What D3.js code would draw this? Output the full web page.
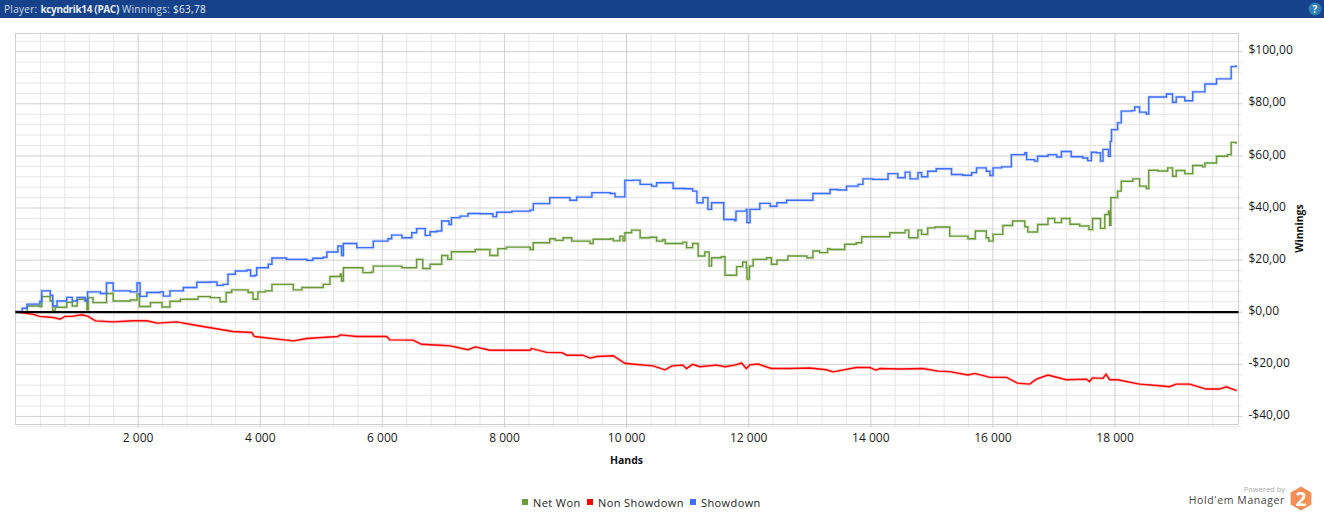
<!DOCTYPE html>
<html>
<head>
<meta charset="utf-8">
<script src="https://cdn.jsdelivr.net/npm/d3@7"></script>
<style>
  html, body { margin: 0; padding: 0; background: #fff; overflow: hidden; }
  svg { display: block; }
  text { font-family: "Open Sans", sans-serif; }
</style>
</head>
<body>
<script>
var showdownHands = [0,110,190,400,430,570,610,680,840,930,1010,1110,1140,1180,1390,1490,1600,1880,1990,2040,2150,2370,2420,2530,2750,2970,3190,3300,3400,3480,3600,3790,3850,3920,3950,4140,4200,4440,4770,4870,5040,5100,5280,5340,5370,5590,5830,5860,6100,6160,6330,6490,6570,6710,6790,6900,6980,7100,7140,7280,7410,7610,7820,7880,8130,8430,8480,8750,8970,9080,9190,9410,9440,9740,9820,9980,10110,10230,10420,10500,10690,10770,10960,11090,11160,11260,11340,11400,11560,11600,11780,11800,11970,11980,12030,12190,12360,12470,12630,12960,13060,13280,13340,13470,13610,13800,13880,14040,14290,14450,14570,14650,14780,14840,14940,15080,15330,15510,15660,15740,15900,15960,16010,16150,16310,16530,16560,16690,16740,16910,17050,17130,17290,17480,17560,17620,17700,17770,17810,17890,17900,17930,17950,18050,18110,18280,18330,18410,18520,18560,18850,18950,19010,19150,19280,19440,19480,19670,19850,19910,19990];
var showdown = [0,1.3,2.9,4,8,6.3,2.2,4.1,5.5,4.1,5.5,5.5,4.1,7.6,7,11,8,7.6,11,5.9,7.4,7.6,6,8,9.3,11.3,11.4,10.1,10.5,14.4,15.6,16,13.7,14,16.9,18.2,20.6,20.1,19.7,20.5,20.9,22.9,25.2,21.6,26.2,24.6,24.6,27.1,28,29.4,28.4,30.3,31.9,29.3,30.7,31,34.8,33.5,36.1,36.7,37.7,37.6,36.5,38.2,38.6,39,41.5,43.8,43.8,42.8,44,44,45.7,45.4,44.1,50.4,50.5,48.9,48.2,49.5,49.5,47.3,47.2,46.3,41.8,43.8,39.3,41.8,41.8,35.4,35,38.6,39.3,34.2,39.3,41.6,40.5,41.8,42.8,42.8,45.4,45.4,46.9,46.7,48.2,48.9,51,50.8,53,51.4,53.6,51,53.4,51.8,53.9,54.9,52.7,52.4,53.4,55.2,53.9,52.3,55.2,55.6,60.3,61,58.4,57.8,59.7,60.3,59.4,61.5,59.5,59,58,61.2,61,57.8,62.3,62.3,59.7,65.4,69.9,72.5,77,77.2,78.6,76.6,75.9,82.4,83.6,80.4,82.4,81,84.4,84.4,87.4,89.4,89.4,94.1,94.7];

var netWonHands = [0,190,400,430,570,610,650,760,840,930,1010,1090,1170,1190,1270,1490,1600,1880,1990,2030,2210,2400,2530,2700,2990,3190,3350,3450,3540,3810,3890,3970,4090,4200,4550,4690,4820,5040,5150,5320,5340,5370,5690,5830,5860,6100,6240,6330,6570,6670,6790,6900,6980,7080,7140,7390,7530,7770,7900,8040,8430,8480,8750,8840,8970,9110,9410,9460,9740,9790,9900,9950,9980,10090,10230,10390,10500,10600,10640,10930,10990,11090,11180,11290,11360,11400,11560,11620,11780,11810,11910,11970,11980,12020,12080,12300,12380,12470,12630,12650,12960,13060,13170,13300,13340,13580,13770,13860,14040,14320,14570,14630,14780,14840,14940,15060,15300,15600,15720,15900,15940,16010,16170,16330,16530,16580,16690,16740,16910,17020,17130,17270,17430,17580,17640,17700,17770,17840,17900,17920,17940,18050,18110,18280,18300,18410,18520,18560,18710,18870,18950,19010,19150,19280,19440,19480,19670,19850,19910,19990];
var netWon = [0,2.2,2,5.8,4.1,0.3,1.7,1.7,3.6,2.2,4.8,4.8,0.7,5.4,3.5,7,4.1,4.5,6.7,2,3.5,1.8,4,4.8,5.8,5.4,3.8,7.4,8.4,7.4,4.8,7.6,8,10.5,8.4,9.3,9.3,10.5,13.5,14.4,11.8,16.9,15,15.2,17.5,17.5,17.5,16.9,20.1,16.6,18.2,18.2,21.6,20.1,23,23,23.9,21.6,24.2,24.8,23.9,26.5,28,27.4,28.4,27.1,26.2,27.8,28,27.2,29,27.2,30.3,31.3,28.4,28.6,27.1,27.6,26.2,26.7,24.6,26.2,21.4,22.9,17.5,20.7,21.1,14,14,17.3,19.1,16.9,12.5,17.5,20.1,20.7,18.2,19.8,19.8,21.4,20.7,23.3,22.7,24.2,23.9,25.9,26.5,28.8,28.8,30.3,31.3,28.4,31.3,29.7,32.2,32.5,29,28,31,28.4,27.1,29.7,33.1,34.8,32.6,30.6,30.6,33.5,35.8,34.2,35.8,33.6,32.9,31.5,35.8,35.8,32,37.3,38.6,33.2,43.8,46.3,50.1,50.1,51,48.2,47.3,54.3,54,55.2,52,54.2,53,56.1,55.6,57.1,59.7,60.3,65,64.4];

var nonShowdownHands = [0,290,400,620,730,810,920,1090,1190,1310,1600,1930,2150,2320,2640,3020,3560,3870,3910,4550,4770,5280,5320,5590,6080,6130,6510,6650,6950,7120,7410,7530,7770,8430,8450,8700,8950,9030,9290,9410,9520,9790,9980,10090,10440,10640,10750,10930,10990,11090,11210,11480,11620,11780,11890,11970,12030,12160,12380,12680,13010,13280,13390,13770,13990,14090,14160,14480,14860,15110,15300,15600,15710,15960,16230,16410,16610,16720,16910,17210,17540,17590,17640,17810,17860,17920,18050,18410,18740,18900,19010,19230,19500,19720,19830,20000];
var nonShowdown = [0,-1,-1.8,-2.2,-2.9,-1.8,-1.8,-1.2,-1.8,-3.5,-3.9,-3.5,-3.5,-4.4,-3.9,-5.5,-7.6,-8,-9.5,-11.2,-10.3,-9.5,-8.9,-9.5,-9.5,-10.8,-10.9,-12.5,-12.9,-13.1,-14.6,-13.5,-14.8,-14.8,-14.1,-15.6,-15.7,-16.7,-16.7,-17.8,-17.2,-16.9,-19.8,-20.1,-20.8,-22.3,-20.8,-20.5,-21.8,-20.2,-21.1,-20.5,-21.1,-20.5,-19.7,-21.8,-20.4,-20.1,-21.8,-21.8,-21.6,-22.3,-23.1,-21.4,-21.4,-22.4,-21.8,-22,-21.8,-22.8,-23,-24.3,-23.7,-25.2,-25.2,-27.4,-27.8,-25.9,-24.3,-26.1,-25.9,-26.8,-25.4,-25.6,-24,-26.1,-26.1,-27.8,-28.4,-28.8,-27.8,-27.8,-29.7,-29.7,-28.8,-30.3];

var xTicks = [2000,4000,6000,8000,10000,12000,14000,16000,18000];
var yTicks = [-40,-20,0,20,40,60,80,100];
var legendNames = ['Net Won','Non Showdown','Showdown'];
var legendColors = ['#6a9a3a','#ff0000','#3c6eff'];

var width = 1324, height = 515;
var left = 15.5, right = 1238.5, top_ = 33.5, bottom = 424.5;
var tickFont = 12;

var svg = d3.select('body').append('svg')
  .attr('width', width)
  .attr('height', height);

var loc = d3.formatLocale({ decimal: ',', thousands: ' ', grouping: [3], currency: ['$',''], minus: '-' });

var x = d3.scaleLinear().domain([0,20030]).range([left,right]);
var y = d3.scaleLinear().domain([-43.3,106.8]).range([bottom,top_]);

// header bar
svg.append('rect').attr('width', width).attr('height', 18).attr('fill', '#15428b');
var head = svg.append('text').attr('x', 4).attr('y', 13)
  .attr('font-size', 10).attr('fill', '#d3dcea').attr('letter-spacing', 0.3);
head.append('tspan').text('Player: ');
head.append('tspan').attr('font-weight', 700).attr('letter-spacing', -0.35).attr('fill', '#e8edf5').text('kcyndrik14 (PAC)');
head.append('tspan').attr('dx', 3).text('Winnings: ');
head.append('tspan').attr('fill', '#e8edf5').text('$63,78');

// help icon
svg.append('circle').attr('cx', 1315).attr('cy', 9).attr('r', 6.5).attr('fill', '#2f7fb5');
svg.append('text').attr('x', 1315).attr('y', 13).attr('text-anchor', 'middle')
  .attr('font-size', 10).attr('font-weight', 700).attr('fill', '#fff').text('?');

// minor grid, runs a little past the plot on the axis side
var minorX = d3.range(400,20000,400).filter(function(d){ return d % 2000 != 0; });
var minorY = d3.range(-44,108,4).filter(function(d){ return d % 20 != 0; });

svg.append('g').attr('transform', 'translate(0,' + bottom + ')')
  .call(d3.axisBottom(x).tickValues(minorX).tickSize(3).tickFormat(''))
  .call(function(g){ g.select('.domain').remove(); g.selectAll('line').attr('stroke','#e6e6e6').attr('y1', top_ - bottom); });
svg.append('g').attr('transform', 'translate(' + right + ',0)')
  .call(d3.axisRight(y).tickValues(minorY).tickSize(3).tickFormat(''))
  .call(function(g){ g.select('.domain').remove(); g.selectAll('line').attr('stroke','#e6e6e6').attr('x1', left - right); });

// major grid and axes
svg.append('g').attr('transform', 'translate(0,' + bottom + ')')
  .call(d3.axisBottom(x).tickValues(xTicks).tickSize(3).tickPadding(6).tickFormat(loc.format(',')))
  .call(function(g){
    g.select('.domain').remove();
    g.selectAll('line').attr('stroke','#cfcfcf').attr('y1', top_ - bottom);
    g.selectAll('text').attr('font-size', tickFont).attr('font-family','Roboto, sans-serif').attr('fill','#1a1a1a');
  });
svg.append('g').attr('transform', 'translate(' + right + ',0)')
  .call(d3.axisRight(y).tickValues(yTicks).tickSize(4).tickPadding(6).tickFormat(loc.format('$,.2f')))
  .call(function(g){
    g.select('.domain').remove();
    g.selectAll('line').attr('stroke','#cfcfcf').attr('x1', left - right);
    g.selectAll('text').attr('font-size', tickFont).attr('font-family','Roboto, sans-serif').attr('fill','#1a1a1a').attr('dy','0.22em');
  });

svg.append('rect')
  .attr('x', left).attr('y', top_)
  .attr('width', right - left).attr('height', bottom - top_)
  .attr('fill', 'none').attr('stroke', '#cfcfcf');

// series
function drawSeries(hands, values, color, curve) {
  var line = d3.line()
    .curve(curve)
    .x(function(d,i){ return x(hands[i]); })
    .y(function(d){ return y(d); });
  svg.append('path').datum(values).attr('d', line)
    .attr('fill','none').attr('stroke',color).attr('stroke-opacity',0.22).attr('stroke-width',3);
  svg.append('path').datum(values).attr('d', line)
    .attr('fill','none').attr('stroke',color).attr('stroke-width',1.4);
}
drawSeries(netWonHands, netWon, legendColors[0], d3.curveStepAfter);
drawSeries(nonShowdownHands, nonShowdown, legendColors[1], d3.curveLinear);
drawSeries(showdownHands, showdown, legendColors[2], d3.curveStepAfter);

// zero line
svg.append('line')
  .attr('x1', left).attr('x2', right)
  .attr('y1', y(0) + 0.5).attr('y2', y(0) + 0.5)
  .attr('stroke', '#000').attr('stroke-width', 2.2);

// axis titles
svg.append('text').attr('x', 626.5).attr('y', 464).attr('text-anchor','middle')
  .attr('font-size', 10.5).attr('font-weight', 700).attr('fill','#111').text('Hands');
svg.append('text').attr('transform','translate(1303,228.5) rotate(-90)').attr('text-anchor','middle')
  .attr('font-size', 10.5).attr('font-weight', 700).attr('fill','#111').text('Winnings');

// legend
var legendX = [522,587,690];
var legend = svg.selectAll('g.leg').data(legendNames).enter().append('g')
  .attr('class','leg')
  .attr('transform', function(d,i){ return 'translate(' + legendX[i] + ',499)'; });
legend.append('rect').attr('width',6).attr('height',6)
  .attr('fill', function(d,i){ return legendColors[i]; });
legend.append('text').attr('x', 11).attr('y', 7.5)
  .attr('font-size', 11).attr('letter-spacing', 0.4).attr('fill','#222')
  .text(function(d){ return d; });

// logo
svg.append('text').attr('x', 1285).attr('y', 491.5).attr('text-anchor','end')
  .attr('font-size', 7.5).attr('fill','#aaaaaa').text('Powered by');
svg.append('text').attr('x', 1285).attr('y', 504).attr('text-anchor','end')
  .attr('font-size', 10.5).attr('letter-spacing', 0.6).attr('fill','#444').text("Hold'em Manager");
svg.append('polygon')
  .attr('points', d3.range(6).map(function(i){
    var a = Math.PI/6 + i*Math.PI/3;
    return [1301 + 12*Math.cos(a), 498.5 + 12*Math.sin(a)].join(',');
  }).join(' '))
  .attr('fill','#f58f55');
svg.append('text').attr('x', 1301).attr('y', 505.5).attr('text-anchor','middle')
  .attr('font-size', 19).attr('font-weight', 700).attr('fill','#fff').text('2');
</script>
</body>
</html>
